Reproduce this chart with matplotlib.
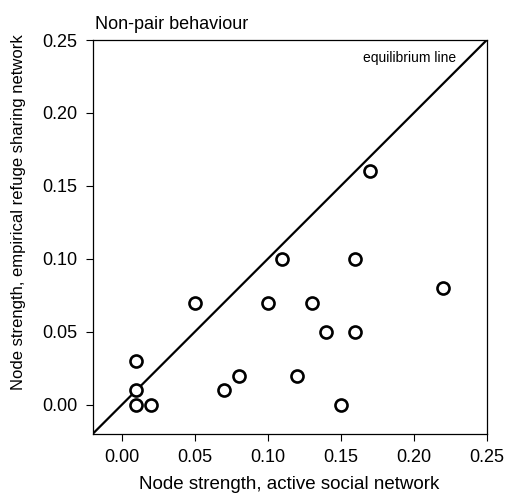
import matplotlib
matplotlib.use("Agg")
import matplotlib.pyplot as plt

plt.rcParams['font.family'] = ['Liberation Sans', 'DejaVu Sans']

active_strength = [0.17, 0.11, 0.16, 0.22, 0.05, 0.10, 0.13, 0.14, 0.16,
                   0.01, 0.01, 0.01, 0.02, 0.07, 0.08, 0.12, 0.15]
refuge_strength = [0.16, 0.10, 0.10, 0.08, 0.07, 0.07, 0.07, 0.05, 0.05,
                   0.03, 0.01, 0.00, 0.00, 0.01, 0.02, 0.02, 0.00]
ticks = [0.00, 0.05, 0.10, 0.15, 0.20, 0.25]
tick_labels = ["0.00", "0.05", "0.10", "0.15", "0.20", "0.25"]
lims = [-0.02, 0.25]

fig = plt.figure(figsize=(5.06, 4.94), dpi=100)
ax = fig.add_axes([0.183, 0.1215, 0.779, 0.7975])

ax.plot(lims, lims, color='black', lw=1.6, zorder=2)
ax.scatter(active_strength, refuge_strength, s=75, facecolors='white',
           edgecolors='black', linewidths=1.9, zorder=3)

ax.set_xlim(lims)
ax.set_ylim(lims)
ax.set_xticks(ticks)
ax.set_xticklabels(tick_labels)
ax.set_yticks(ticks)
ax.set_yticklabels(tick_labels)
ax.tick_params(direction='out', length=5, width=0.8, labelsize=13, pad=6,
               top=False, right=False)
for sp in ax.spines.values():
    sp.set_linewidth(0.9)

ax.set_xlabel("Node strength, active social network", fontsize=13.5, labelpad=7)
ax.set_ylabel("Node strength, empirical refuge sharing network", fontsize=12)
ax.yaxis.set_label_coords(-0.168, 0.563)
ax.set_title("Non-pair behaviour", fontsize=13, loc='left', pad=8, x=0.005)
ax.text(0.229, 0.238, "equilibrium line", fontsize=10, ha='right', va='center')

fig.savefig("out.png", dpi=100)
